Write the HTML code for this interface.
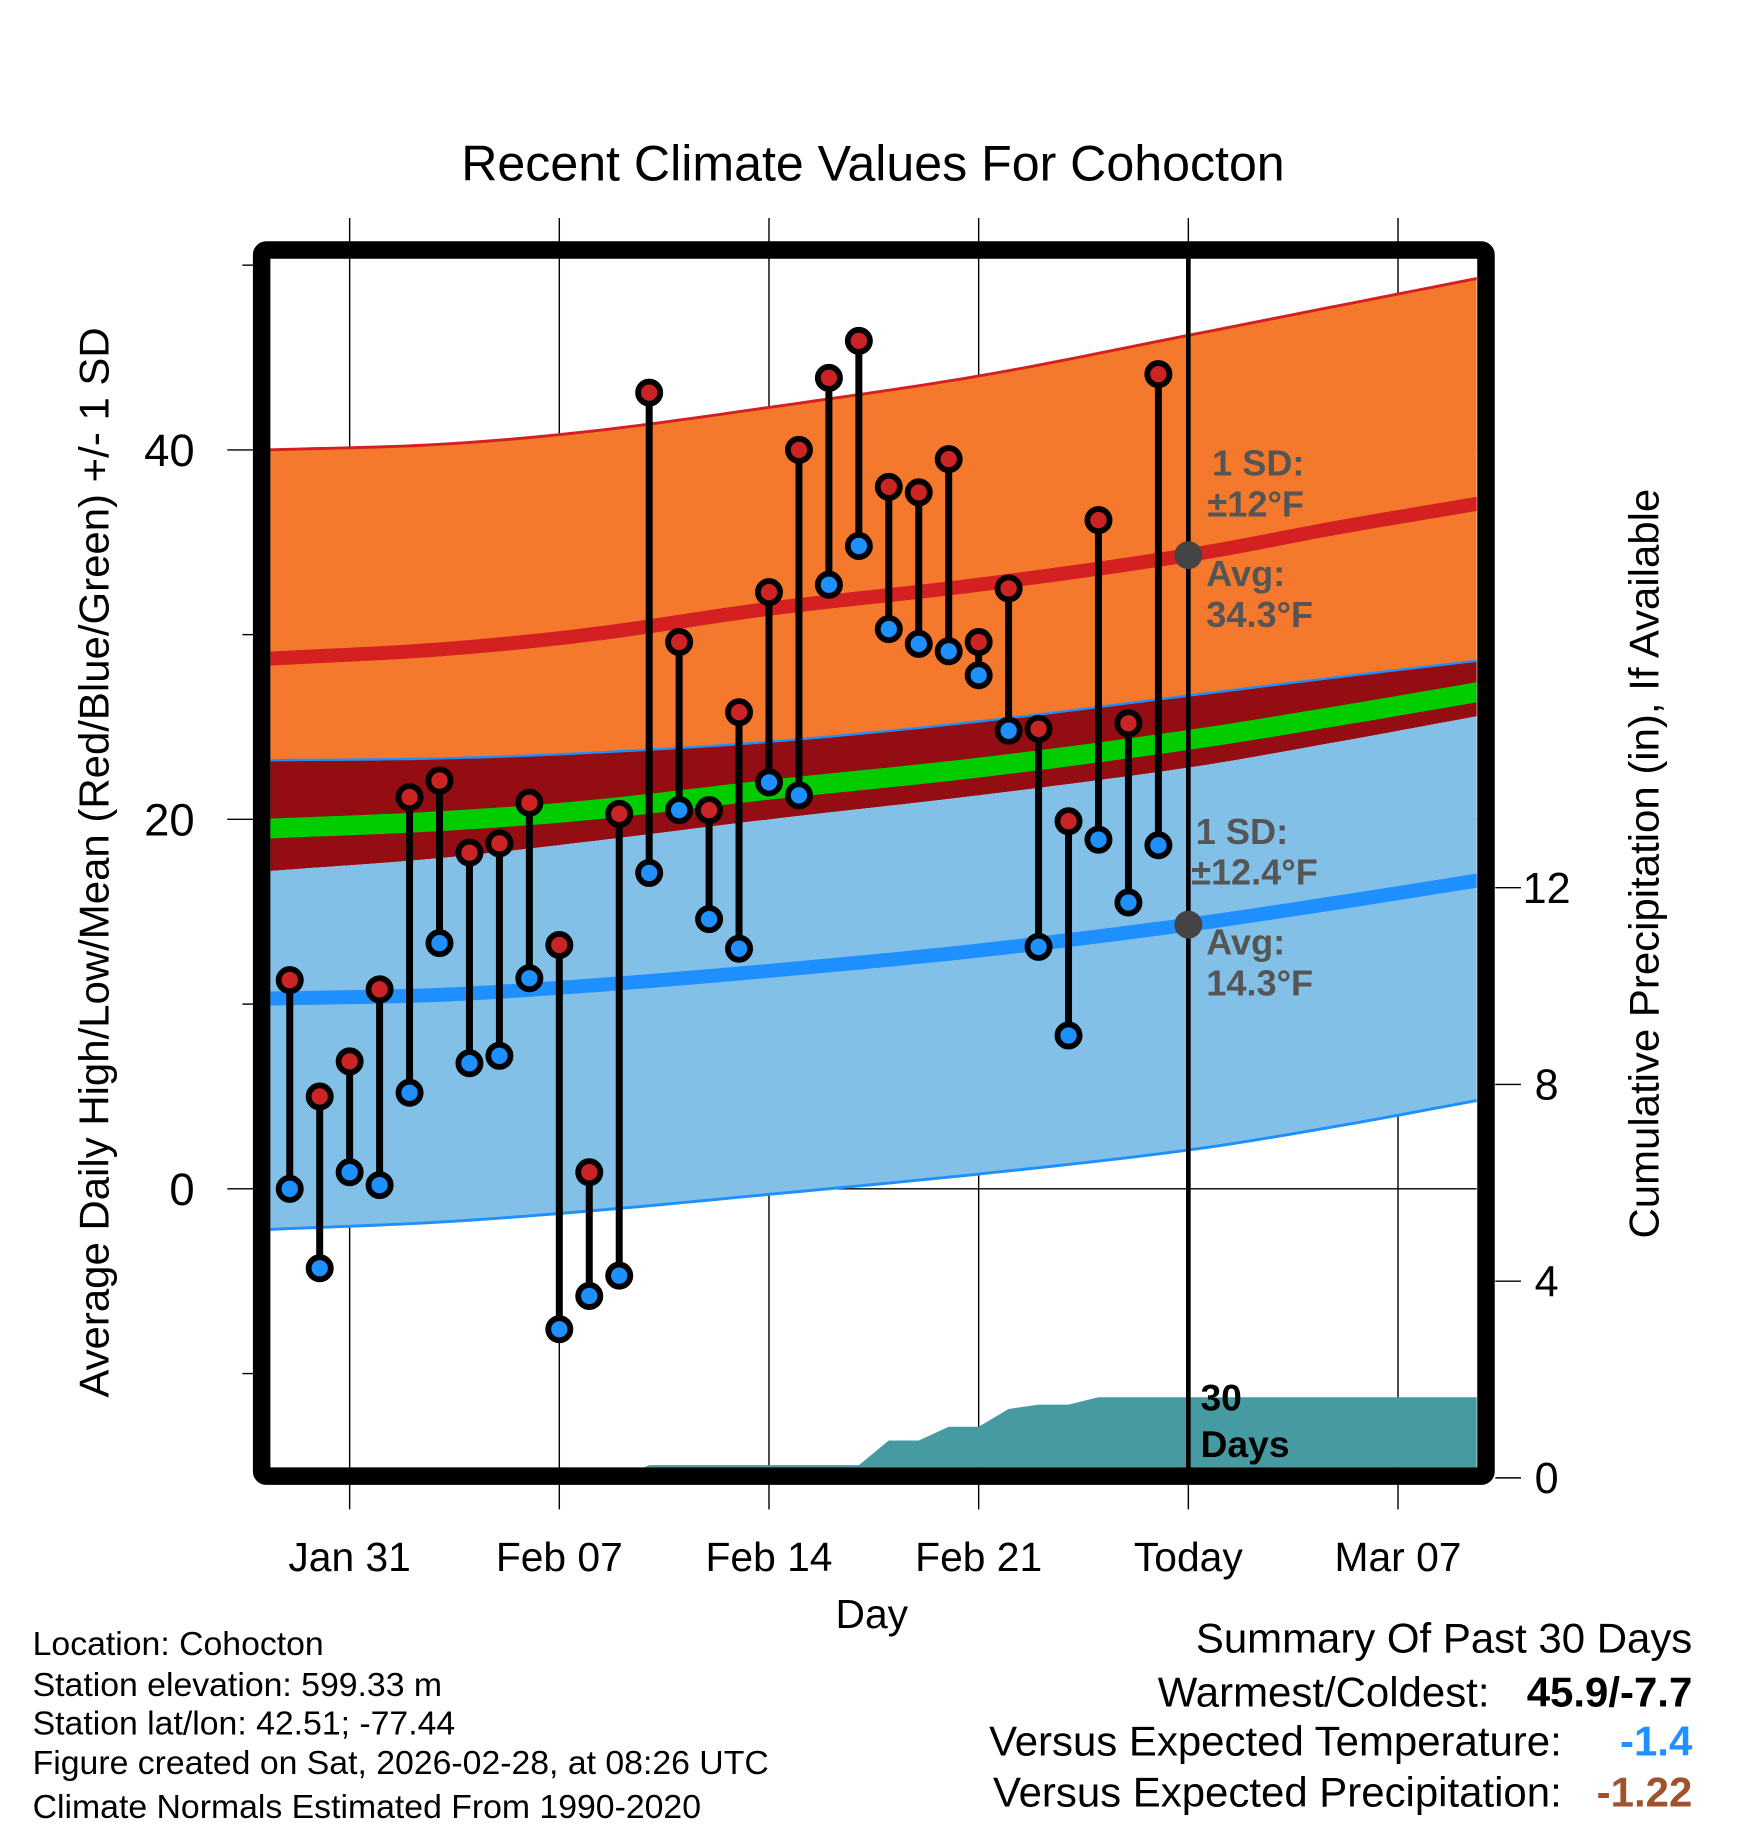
<!DOCTYPE html>
<html><head><meta charset="utf-8"><style>
html,body{margin:0;padding:0;background:#fff;}
svg{display:block;font-family:"Liberation Sans",sans-serif;}
</style></head><body>
<svg id="chart" width="1748" height="1828" viewBox="0 0 1499.8 1568.4" preserveAspectRatio="none" xmlns="http://www.w3.org/2000/svg">
<defs><clipPath id="plotclip"><rect x="232" y="222" width="1035" height="1037"/></clipPath></defs>
<text x="749" y="155" font-size="43" text-anchor="middle">Recent Climate Values For Cohocton</text>
<g id="grid"></g>
<g id="bands" clip-path="url(#plotclip)"></g>
<g id="marks"></g>
<g id="annot" font-weight="bold" font-size="31" fill="#555">
<text x="1040" y="408">1 SD:</text>
<text x="1036" y="443">±12°F</text>
<text x="1035" y="503">Avg:</text>
<text x="1035" y="538">34.3°F</text>
<text x="1026" y="724">1 SD:</text>
<text x="1022" y="759">±12.4°F</text>
<text x="1035" y="819">Avg:</text>
<text x="1035" y="854">14.3°F</text>
</g>
<text x="1030" y="1210" font-size="32" font-weight="bold">30</text>
<text x="1030" y="1250" font-size="32" font-weight="bold">Days</text>
<rect x="224.5" y="214.5" width="1050.5" height="1052" fill="none" stroke="#000" stroke-width="15" rx="4"/>
<g id="axes"></g>
<text transform="translate(93,740) rotate(-90)" font-size="36" text-anchor="middle">Average Daily High/Low/Mean (Red/Blue/Green) +/- 1 SD</text>
<text transform="translate(1423,741) rotate(-90)" font-size="36" text-anchor="middle">Cumulative Precipitation (in), If Available</text>
<text x="748" y="1397" font-size="35" text-anchor="middle">Day</text>
<g font-size="29">
<text x="28" y="1420">Location: Cohocton</text>
<text x="28" y="1455">Station elevation: 599.33 m</text>
<text x="28" y="1488">Station lat/lon: 42.51; -77.44</text>
<text x="28" y="1522">Figure created on Sat, 2026-02-28, at 08:26 UTC</text>
<text x="28" y="1560">Climate Normals Estimated From 1990-2020</text>
</g>
<g font-size="36">
<text x="1452" y="1418" text-anchor="end">Summary Of Past 30 Days</text>
<text x="1278" y="1464" text-anchor="end">Warmest/Coldest:</text>
<text x="1452" y="1464" text-anchor="end" font-weight="bold">45.9/-7.7</text>
<text x="1340" y="1506" text-anchor="end">Versus Expected Temperature:</text>
<text x="1452" y="1506" text-anchor="end" font-weight="bold" fill="#1e90ff">-1.4</text>
<text x="1340" y="1550" text-anchor="end">Versus Expected Precipitation:</text>
<text x="1452" y="1550" text-anchor="end" font-weight="bold" fill="#a0522d">-1.22</text>
</g>
</svg>
<script>
const highs=[11.3,5.0,6.9,10.8,21.2,22.1,18.2,18.7,20.9,13.2,0.9,20.3,43.1,29.6,20.5,25.8,32.3,40.0,43.9,45.9,38.0,37.7,39.5,29.6,32.5,24.9,19.9,36.2,25.2,44.1];
const lows=[0.0,-4.3,0.9,0.2,5.2,13.3,6.8,7.2,11.4,-7.6,-5.8,-4.7,17.1,20.5,14.6,13.0,22.0,21.3,32.7,34.8,30.3,29.5,29.1,27.8,24.8,13.1,8.3,18.9,15.5,18.6];
const precip=[0,0,0,0,0,0,0,0,0,0,0,0,0.26,0.26,0.26,0.26,0.26,0.26,0.26,0.26,0.76,0.76,1.04,1.04,1.40,1.49,1.49,1.64,1.64,1.64];
const normDays=[-0.7,5,10,16,23,30,35,39.7];
const hiUp=[40.0,40.3,41.0,42.3,44.0,46.2,47.8,49.3];
const hiMean=[28.7,29.2,30.0,31.4,32.7,34.3,35.8,37.1];
const hiLow=[23.2,23.3,23.6,24.2,25.3,26.7,27.7,28.6];
const meanT=[19.5,19.9,20.5,21.6,22.8,24.3,25.6,26.9];
const loUp=[17.2,17.9,18.8,20.0,21.3,22.8,24.2,25.6];
const loMean=[10.3,10.5,11.0,11.8,12.9,14.3,15.5,16.7];
const loLow=[-2.2,-1.8,-1.2,-0.3,0.8,2.1,3.4,4.8];
const xTickDays=[2,9,16,23,30,37];
const xTickLabels=["Jan 31","Feb 07","Feb 14","Feb 21","Today","Mar 07"];
const yTicks=[40,20,0];
const yMinor=[50,30,10,-10];
const y2Ticks=[0,4,8,12];
const todayDay=30, endDay=39.7;

const NS="http://www.w3.org/2000/svg";
const x=d=>248.6+25.7*d;
const y=v=>1020-15.85*v;
const yp=p=>1268-42.2*p;
function mk(tag,parent,attrs){const e=document.createElementNS(NS,tag);for(const k in attrs)e.setAttribute(k,attrs[k]);parent.appendChild(e);return e;}
const grid=document.getElementById('grid'),bands=document.getElementById('bands'),marks=document.getElementById('marks'),axes=document.getElementById('axes');
function tangent(arr,i){const n=normDays.length;
if(i===0)return (arr[1]-arr[0])/(normDays[1]-normDays[0]);
if(i===n-1)return (arr[n-1]-arr[n-2])/(normDays[n-1]-normDays[n-2]);
return (arr[i+1]-arr[i-1])/(normDays[i+1]-normDays[i-1]);}
function interp(arr,d){const n=normDays.length;let i=0;while(i<n-2&&d>normDays[i+1])i++;
const x0=normDays[i],x1=normDays[i+1],h=x1-x0;const t=Math.min(Math.max((d-x0)/h,0),1);
const t2=t*t,t3=t2*t;
return (2*t3-3*t2+1)*arr[i]+(t3-2*t2+t)*h*tangent(arr,i)+(-2*t3+3*t2)*arr[i+1]+(t3-t2)*h*tangent(arr,i+1);}
const sampleDays=[];const d0=normDays[0],d1=normDays[normDays.length-1];
for(let k=0;k<=80;k++)sampleDays.push(d0+(d1-d0)*k/80);
const pts=arr=>sampleDays.map(d=>x(d)+','+y(interp(arr,d)));
function band(top,bot,fill,name){const p=pts(top).concat(pts(bot).reverse());const e=mk('polygon',bands,{points:p.join(' '),fill:fill});

}
function line(arr,stroke,w,name){const e=mk('polyline',bands,{points:pts(arr).join(' '),fill:'none',stroke:stroke,'stroke-width':w});

}
band(hiUp,hiLow,'#f5792d','high-sd-band');
band(hiLow,loUp,'#930d13','overlap-band');
band(loUp,loLow,'#82c0e8','low-sd-band');
{const p=[];p.push(x(precip.findIndex(v=>v>0)-0.3)+','+yp(0));
precip.forEach((v,i)=>p.push(x(i)+','+yp(v)));
p.push(x(endDay)+','+yp(precip[precip.length-1]));p.push(x(endDay)+','+yp(0));
const e=mk('polygon',bands,{points:p.join(' '),fill:'#469ba3'});

}
line(hiUp,'#d42020',2.5,'high-upper-sd-line');
line(hiLow,'#1e90ff',2,'high-lower-sd-line');
line(loLow,'#1e90ff',2.5,'low-lower-sd-line');
line(meanT,'#00cc00',17,'mean-line');
line(hiMean,'#d42020',12,'high-mean-line');
line(loMean,'#1e90ff',12,'low-mean-line');
xTickDays.forEach(d=>{const e=mk('line',grid,{x1:x(d),x2:x(d),y1:187,y2:1295,stroke:'#000','stroke-width':1.2});

});
yTicks.forEach(v=>{const e=mk('line',grid,{x1:195,x2:1267,y1:y(v),y2:y(v),stroke:'#000','stroke-width':1.2});

});
{const e=mk('line',marks,{x1:x(todayDay),x2:x(todayDay),y1:222,y2:1260,stroke:'#000','stroke-width':4});

}
highs.forEach((h,i)=>{const e=mk('line',marks,{x1:x(i),x2:x(i),y1:y(h),y2:y(lows[i]),stroke:'#000','stroke-width':6});

});
highs.forEach((h,i)=>{const c=mk('circle',marks,{cx:x(i),cy:y(h),r:9.5,fill:'#cc2424',stroke:'#000','stroke-width':5});


const c2=mk('circle',marks,{cx:x(i),cy:y(lows[i]),r:9.5,fill:'#1e90ff',stroke:'#000','stroke-width':5});

});
[hiMean,loMean].forEach(a=>{const c=mk('circle',marks,{cx:x(todayDay),cy:y(interp(a,todayDay)),r:12,fill:'#444'});

});
yTicks.forEach(v=>{const t=mk('text',axes,{x:167,y:y(v)+14,'font-size':39,'text-anchor':'end'});t.textContent=v;

});
yMinor.forEach(v=>{const e=mk('line',axes,{x1:208,x2:217,y1:y(v),y2:y(v),stroke:'#000','stroke-width':1.2});

});
y2Ticks.forEach(p=>{const e=mk('line',axes,{x1:1283,x2:1305,y1:yp(p),y2:yp(p),stroke:'#000','stroke-width':1.2});


const t=mk('text',axes,{x:1327,y:yp(p)+13,'font-size':37,'text-anchor':'middle'});t.textContent=p;

});
xTickDays.forEach((d,i)=>{const t=mk('text',axes,{x:x(d),y:1348,'font-size':35,'text-anchor':'middle'});t.textContent=xTickLabels[i];

});
</script>
</body></html>
